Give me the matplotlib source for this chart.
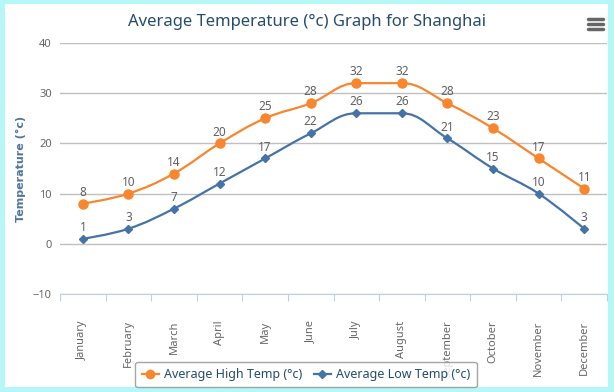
import numpy as np
import matplotlib.pyplot as plt
from matplotlib.path import Path
from matplotlib.patches import PathPatch, Rectangle
from matplotlib.lines import Line2D

plt.rcParams['font.family'] = ['Noto Sans', 'DejaVu Sans']

months = ['January', 'February', 'March', 'April', 'May', 'June', 'July',
          'August', 'September', 'October', 'November', 'December']
high_temp = [8, 10, 14, 20, 25, 28, 32, 32, 28, 23, 17, 11]
low_temp = [1, 3, 7, 12, 17, 22, 26, 26, 21, 15, 10, 3]

orange = '#f7862f'
blue = '#4572a7'


def spline_path(xs, ys, smoothing=1.5):
    # highcharts style spline: cubic bezier between data points
    denom = smoothing + 1
    n = len(xs)
    lc = [None] * n
    rc = [None] * n
    for i in range(1, n - 1):
        x, y = xs[i], ys[i]
        lx, ly = xs[i - 1], ys[i - 1]
        nx, ny = xs[i + 1], ys[i + 1]
        lcx = (smoothing * x + lx) / denom
        lcy = (smoothing * y + ly) / denom
        rcx = (smoothing * x + nx) / denom
        rcy = (smoothing * y + ny) / denom
        corr = (rcy - lcy) * (rcx - x) / (rcx - lcx) + y - rcy
        lcy += corr
        rcy += corr
        if lcy > ly and lcy > y:
            lcy = max(ly, y)
            rcy = 2 * y - lcy
        elif lcy < ly and lcy < y:
            lcy = min(ly, y)
            rcy = 2 * y - lcy
        if rcy > ny and rcy > y:
            rcy = max(ny, y)
            lcy = 2 * y - rcy
        elif rcy < ny and rcy < y:
            rcy = min(ny, y)
            lcy = 2 * y - rcy
        lc[i] = (lcx, lcy)
        rc[i] = (rcx, rcy)
    verts = [(xs[0], ys[0])]
    codes = [Path.MOVETO]
    for i in range(1, n):
        p0 = rc[i - 1] if rc[i - 1] else (xs[i - 1], ys[i - 1])
        p1 = lc[i] if lc[i] else (xs[i], ys[i])
        verts += [p0, p1, (xs[i], ys[i])]
        codes += [Path.CURVE4] * 3
    return Path(verts, codes)


fig = plt.figure(figsize=(6.14, 3.92), dpi=100)
fig.patch.set_facecolor('#b5f7f7')
fig.patches.append(Rectangle((5 / 614, 5 / 392), 603 / 614, 383 / 392,
                             transform=fig.transFigure, facecolor='white',
                             edgecolor='none', zorder=-10))

ax = fig.add_axes([60 / 614, 1 - 294 / 392, 547 / 614, 251 / 392])
ax.set_facecolor('none')

x = np.arange(len(months))
for vals, col, mk, ms in [(high_temp, orange, 'o', 6.5), (low_temp, blue, 'D', 4.5)]:
    ax.add_patch(PathPatch(spline_path(list(x), vals), facecolor='none',
                           edgecolor=col, lw=1.6, zorder=3))
    ax.plot(x, vals, linestyle='none', marker=mk, color=col, ms=ms, zorder=4)
    for xi, v in zip(x, vals):
        ax.annotate(str(v), (xi, v), xytext=(0, 3.5), textcoords='offset points',
                    ha='center', va='bottom', fontsize=8.5, color='#606060')

ax.set_xlim(-0.5, 11.5)
ax.set_ylim(-10, 40)
ax.set_yticks(range(-10, 41, 10))
ax.grid(axis='y', color='#c0c0c0', lw=1)
ax.set_axisbelow(True)
for s in ['top', 'right', 'left']:
    ax.spines[s].set_visible(False)
ax.spines['bottom'].set_color('#c0d0e0')
ax.spines['bottom'].set_zorder(2)

ax.set_xticks(np.arange(-0.5, 12, 1))
ax.set_xticklabels([])
ax.set_xticks(x, minor=True)
ax.set_xticklabels(months, minor=True, rotation=90, fontsize=8,
                   color='#666666', va='top')
ax.tick_params(axis='x', which='major', length=5, color='#c0d0e0', direction='out')
ax.tick_params(axis='x', which='minor', length=0, pad=19)
ax.tick_params(axis='y', length=0, labelsize=8, labelcolor='#666666', pad=6)

ax.set_ylabel('Temperature (°c)', fontsize=8, fontweight='bold',
              family='DejaVu Sans', color='#4d759e', labelpad=5)

fig.text(307 / 614, 1 - 22 / 392, 'Average Temperature (°c) Graph for Shanghai',
         ha='center', va='center', fontsize=12, color='#274b6d')

# menu icon
for yy in [19, 24, 29]:
    fig.add_artist(Line2D([588 / 614, 603 / 614], [1 - yy / 392] * 2,
                          color='#666666', lw=2.5, solid_capstyle='round'))

handles = [Line2D([], [], color=orange, lw=1.6, marker='o', ms=6),
           Line2D([], [], color=blue, lw=1.6, marker='D', ms=4.5)]
leg = fig.legend(handles, ['Average High Temp (°c)', 'Average Low Temp (°c)'],
                 loc='center', bbox_to_anchor=(306 / 614, 1 - 374.5 / 392), ncol=2,
                 fontsize=9, frameon=True, fancybox=True, edgecolor='#909090',
                 handlelength=1.4, handletextpad=0.4, columnspacing=0.9,
                 borderpad=0.5, labelcolor='#274b6d')
leg.get_frame().set_linewidth(1)

fig.savefig('out.png', dpi=100)
